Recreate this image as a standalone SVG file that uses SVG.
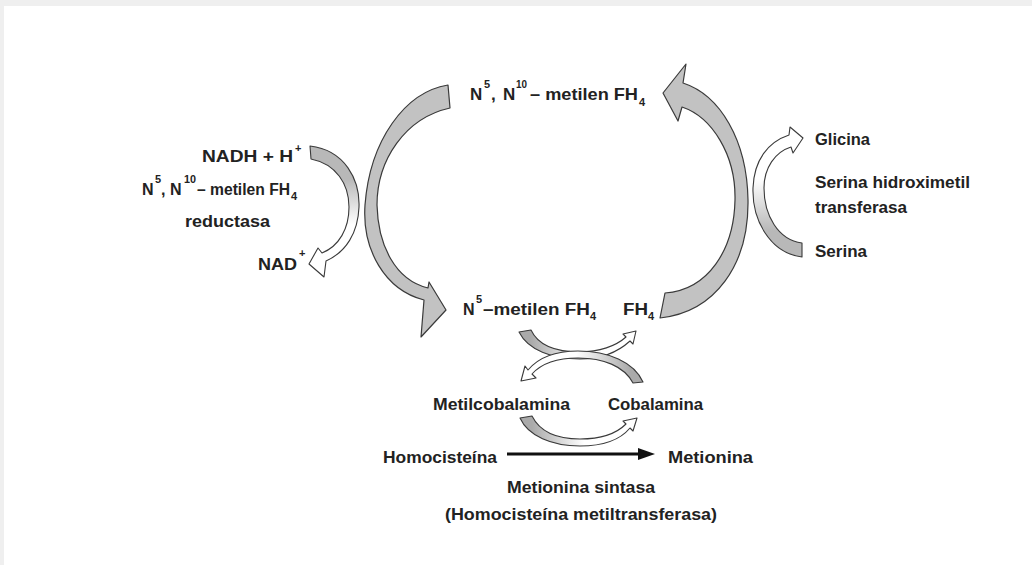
<svg xmlns="http://www.w3.org/2000/svg" width="1032" height="565" viewBox="0 0 1032 565">
<style>
.t{font-family:"Liberation Sans",Arial,sans-serif;font-weight:bold;font-size:16px;fill:#222}
.big{font-size:17px}
.s{font-size:11px}
.blk{fill:#c2c2c2;stroke:#3a3a3a;stroke-width:1.2;stroke-linejoin:round}
.sm{stroke:#3a3a3a;stroke-width:1.1;stroke-linejoin:round}
</style>
<defs>
<linearGradient id="gDown" x1="0" y1="0" x2="0" y2="1"><stop offset="0.25" stop-color="#b8b8b8"/><stop offset="0.6" stop-color="#fff"/></linearGradient>
<linearGradient id="gUp" x1="0" y1="0" x2="0" y2="1"><stop offset="0.4" stop-color="#fff"/><stop offset="0.8" stop-color="#b8b8b8"/></linearGradient>
<linearGradient id="gLR" x1="0" y1="0" x2="1" y2="0"><stop offset="0.1" stop-color="#aaa"/><stop offset="0.55" stop-color="#fff"/></linearGradient>
<linearGradient id="gRL" x1="0" y1="0" x2="1" y2="0"><stop offset="0.45" stop-color="#fff"/><stop offset="0.9" stop-color="#aaa"/></linearGradient>
</defs>
<rect x="0" y="0" width="1032" height="565" fill="#efefef"/>
<rect x="4" y="6" width="1028" height="559" fill="#fff"/>

<g id="connectors">
<path id="cycle-left" class="blk" d="M448,85 C405,92 370,140 365,205 C362,250 385,290 424,300 L421,337 L446,310 L429,282 L428,288 C395,280 378,245 377,205 C377,160 405,118 450,108 Z"/>
<path id="cycle-right" class="blk" d="M660,318 C715,312 749,265 748,200 C747,140 720,95 683,83 L686,64 L663,93 L678,121 L682,107 C712,117 736,155 735,200 C734,250 708,290 665,293 Z"/>
<path id="nadh-arrow" class="sm" fill="url(#gDown)" d="M310,146 C345,150 360,180 359,207 C358,233 346,252 326,261 L324,277 L309,264 L318,248 L322,253 C339,246 349,229 349,207 C349,184 336,164 311,159 Z"/>
<path id="serina-arrow" class="sm" fill="url(#gUp)" d="M802,257 C770,253 752,220 753,188 C754,160 768,142 789,135 L790,127 L803,138 L793,153 L791,147 C775,152 764,168 764,188 C764,215 778,240 802,243 Z"/>
<path id="cross-1" class="sm" fill="url(#gLR)" d="M519,332 C528,350 552,359 580,359 C600,359 618,352 630,341 L633,344 L636,331 L623,334 L626,337 C616,346 599,352 580,352 C556,352 538,345 531,330 Z"/>
<path id="cross-2" class="sm" fill="url(#gRL)" d="M643,382 C634,362 608,351 578,351 C555,351 538,358 528,370 L525,366 L521,381 L536,378 L532,374 C541,364 556,358 578,358 C603,358 624,366 633,383 Z"/>
<path id="cobal-arrow" class="sm" fill="url(#gLR)" d="M520,418 C528,436 552,446 580,446 C602,446 620,440 630,428 L633,431 L637,418 L623,421 L626,424 C616,434 600,439 580,439 C557,439 540,432 532,416 Z"/>
<g id="homo-arrow">
<line x1="507" y1="454" x2="640" y2="454" stroke="#111" stroke-width="3"/>
<polygon points="638,448 655,454 638,460" fill="#111"/>
</g>
</g>

<g id="node-methylene-top">
<text class="t big" x="470" y="100">N</text>
<text class="t s" x="484" y="88">5</text>
<text class="t big" x="491" y="100">,</text>
<text class="t big" x="503" y="100">N</text>
<text class="t s" x="516" y="88" textLength="11" lengthAdjust="spacingAndGlyphs">10</text>
<text class="t big" x="530" y="100" textLength="108" lengthAdjust="spacingAndGlyphs">– metilen FH</text>
<text class="t s" x="639" y="106">4</text>
</g>

<g id="node-reductase">
<text class="t" x="202" y="162" textLength="91" lengthAdjust="spacingAndGlyphs">NADH + H</text>
<text class="t s" x="295" y="152">+</text>
<text class="t" x="142" y="195">N</text>
<text class="t s" x="155" y="183">5</text>
<text class="t" x="161" y="195">,</text>
<text class="t" x="170" y="195">N</text>
<text class="t s" x="184" y="183" textLength="12" lengthAdjust="spacingAndGlyphs">10</text>
<text class="t" x="197" y="195" textLength="93" lengthAdjust="spacingAndGlyphs">– metilen FH</text>
<text class="t s" x="291" y="200">4</text>
<text class="t" x="185" y="227" textLength="85" lengthAdjust="spacingAndGlyphs">reductasa</text>
<text class="t" x="258" y="270" textLength="39" lengthAdjust="spacingAndGlyphs">NAD</text>
<text class="t s" x="299" y="257">+</text>
</g>

<g id="node-shmt">
<text class="t" x="815" y="145" textLength="55" lengthAdjust="spacingAndGlyphs">Glicina</text>
<text class="t" x="815" y="188" textLength="155" lengthAdjust="spacingAndGlyphs">Serina hidroximetil</text>
<text class="t" x="815" y="213" textLength="92" lengthAdjust="spacingAndGlyphs">transferasa</text>
<text class="t" x="815" y="257" textLength="52" lengthAdjust="spacingAndGlyphs">Serina</text>
</g>

<g id="node-methyl-fh4">
<text class="t" x="463" y="315">N</text>
<text class="t s" x="476" y="303">5</text>
<text class="t" x="483" y="315" textLength="107" lengthAdjust="spacingAndGlyphs">–metilen FH</text>
<text class="t s" x="590" y="320">4</text>
</g>

<g id="node-fh4">
<text class="t" x="623" y="315" textLength="25" lengthAdjust="spacingAndGlyphs">FH</text>
<text class="t s" x="648" y="320">4</text>
</g>

<g id="node-cobalamins">
<text class="t" x="433" y="410" textLength="137" lengthAdjust="spacingAndGlyphs">Metilcobalamina</text>
<text class="t" x="608" y="410" textLength="95" lengthAdjust="spacingAndGlyphs">Cobalamina</text>
</g>

<g id="node-homocysteine">
<text class="t" x="383" y="463" textLength="114" lengthAdjust="spacingAndGlyphs">Homocisteína</text>
</g>
<g id="node-methionine">
<text class="t" x="668" y="463" textLength="85" lengthAdjust="spacingAndGlyphs">Metionina</text>
</g>
<g id="node-synthase">
<text class="t" x="507" y="493" textLength="148" lengthAdjust="spacingAndGlyphs">Metionina sintasa</text>
<text class="t" x="445" y="520" textLength="272" lengthAdjust="spacingAndGlyphs">(Homocisteína metiltransferasa)</text>
</g>
</svg>
